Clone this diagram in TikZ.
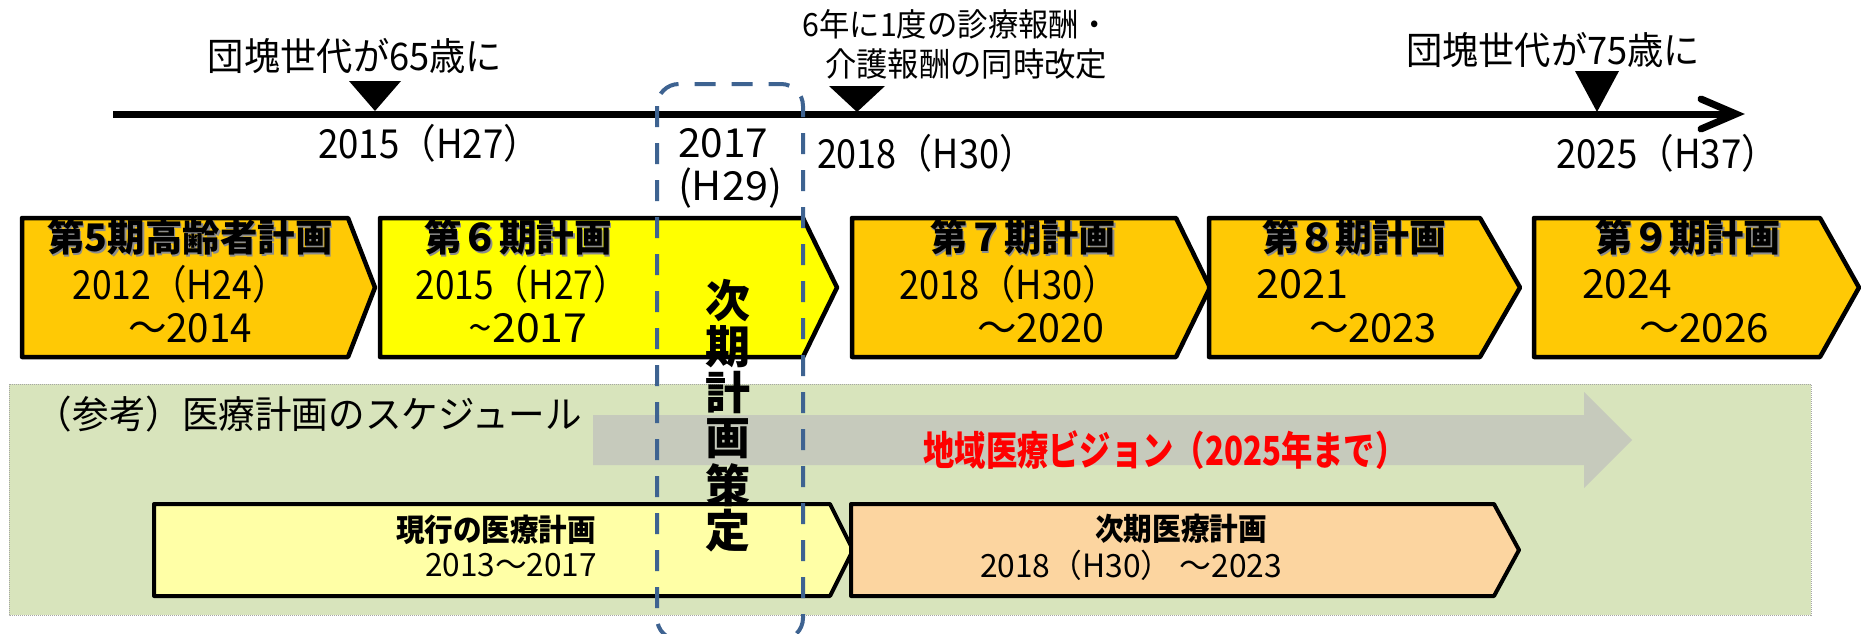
\documentclass[tikz,border=0pt]{standalone}
\usepackage{fontspec}
\setmainfont{Noto Sans CJK JP}
\usepackage{graphicx}
\definecolor{planorange}{RGB}{255,201,5}
\definecolor{planyellow}{RGB}{255,255,0}
\definecolor{panelgreen}{RGB}{216,228,188}
\definecolor{arrowgray}{RGB}{198,202,188}
\definecolor{curyellow}{RGB}{255,255,166}
\definecolor{nextorange}{RGB}{252,213,160}
\definecolor{dashblue}{RGB}{62,99,145}
\newcommand\fitw[2]{\resizebox{#1pt}{\height}{#2}}
\newcommand\fsz[1]{\fontsize{#1}{#1}\selectfont}
\newcommand\shd[1]{\makebox[0pt][l]{\raisebox{-1.5pt}{\hspace{1.5pt}\textcolor{black!45}{#1}}}#1}
\newcommand\pentagon[6]{\filldraw[#6] (#1,#2) -- (#3,#2) -- (#4,{(#2+#5)/2}) -- (#3,#5) -- (#1,#5) -- cycle;}
\tikzset{
  plan/.style={draw=black, line width=4.5pt, line join=round},
  lowplan/.style={draw=black, line width=4pt, line join=round},
  lbl/.style={inner sep=0pt, outer sep=0pt, font=\fsz{38}},
  yr/.style={inner sep=0pt, outer sep=0pt, font=\fsz{40}},
  head/.style={inner sep=0pt, outer sep=0pt, font=\fsz{38}\bfseries},
  vert/.style={inner sep=0pt, outer sep=0pt, font=\fsz{45}\bfseries},
  tri/.style={fill=black},
}
\begin{document}
\begin{tikzpicture}[x=1pt,y=-1pt]
\useasboundingbox (0,0) rectangle (1862,634);
\clip (0,0) rectangle (1862,634);
\fill[white] (0,0) rectangle (1862,634);

% reference panel
\filldraw[fill=panelgreen, draw=gray!70, line width=1pt, dash pattern=on 1pt off 1pt] (9,384) rectangle (1811,615);
\node[lbl, font=\fsz{38}] (reflbl) at (309,414) {\fitw{546}{（参考）医療計画のスケジュール}};
\fill[arrowgray] (593,415) -- (1584,415) -- (1584,392) -- (1632,440) -- (1584,488) -- (1584,465) -- (593,465) -- cycle;
\node[head, font=\fsz{40}\bfseries, text=red] (vision) at (1165,450) {\fitw{483}{地域医療ビジョン（2025年まで）}};

% lower boxes
\pentagon{154}{504}{830}{853}{596}{lowplan, fill=curyellow}
\pentagon{851}{504}{1494}{1519}{596}{lowplan, fill=nextorange}
\node[lbl, font=\fsz{31}\bfseries, anchor=east] (cur1) at (596,530) {\fitw{200}{現行の医療計画}};
\node[lbl, font=\fsz{32}, anchor=east] (cur2) at (597,565) {\fitw{172}{2013～2017}};
\node[lbl, font=\fsz{31}\bfseries] (nxt1) at (1181,529) {\fitw{172}{次期医療計画}};
\node[lbl, font=\fsz{32}] (nxt2) at (1131,565) {\fitw{302}{2018（H30） ～2023}};

% plan boxes
\pentagon{22}{218}{348}{375}{357}{plan, fill=planorange}
\pentagon{380}{218}{803}{837}{357}{plan, fill=planyellow}
\pentagon{852}{218}{1176}{1210}{357}{plan, fill=planorange}
\pentagon{1209}{218}{1480}{1520}{357}{plan, fill=planorange}
\pentagon{1534}{218}{1820}{1859}{357}{plan, fill=planorange}

\node[head] (h5) at (190,238) {\fitw{285}{\shd{第5期高齢者計画}}};
\node[yr] (a5) at (180,284) {\fitw{215}{2012（H24）}};
\node[yr] (b5) at (190,328) {\fitw{124}{～2014}};

\node[head] (h6) at (518,238) {\fitw{188}{\shd{第６期計画}}};
\node[yr] (a6) at (522,284) {\fitw{213}{2015（H27）}};
\node[yr] (b6) at (528,328) {\fitw{119}{\string~2017}};

\node[head] (h7) at (1023,238) {\fitw{186}{\shd{第７期計画}}};
\node[yr] (a7) at (1009,284) {\fitw{220}{2018（H30）}};
\node[yr] (b7) at (1041,328) {\fitw{127}{～2020}};

\node[head] (h8) at (1354,238) {\fitw{184}{\shd{第８期計画}}};
\node[yr, anchor=west] (a8) at (1256,284) {\fitw{92}{2021}};
\node[yr] (b8) at (1373,328) {\fitw{128}{～2023}};

\node[head] (h9) at (1688,238) {\fitw{186}{\shd{第９期計画}}};
\node[yr, anchor=west] (a9) at (1582,284) {\fitw{90}{2024}};
\node[yr] (b9) at (1704,328) {\fitw{130}{～2026}};

% timeline
\draw[line width=7pt] (113,114) -- (1733,114);
\draw[line width=7pt, line cap=round, line join=miter] (1701,99) -- (1736,114) -- (1701,129);
\fill[tri] (349,81) -- (401,81) -- (375,111) -- cycle;
\fill[tri] (829,86) -- (885,86) -- (857,112) -- cycle;
\fill[tri] (1575,71) -- (1619,71) -- (1597,112) -- cycle;

\node[lbl] (t65) at (355,56) {\fitw{294}{団塊世代が65歳に}};
\node[lbl, font=\fsz{32}] (rev1) at (956,24) {\fitw{307}{6年に1度の診療報酬・}};
\node[lbl, font=\fsz{33}] (rev2) at (966,64) {\fitw{282}{介護報酬の同時改定}};
\node[lbl] (t75) at (1553,50) {\fitw{294}{団塊世代が75歳に}};

\node[yr] (y15) at (429,143) {\fitw{222}{2015（H27）}};
\node[yr] (y17a) at (723,143) {\fitw{90}{2017}};
\node[yr] (y17b) at (730,188) {\fitw{104}{(H29)}};
\node[yr] (y18) at (926,153) {\fitw{218}{2018（H30）}};
\node[yr] (y25) at (1667,153) {\fitw{222}{2025（H37）}};

% dashed planning box
\draw[dashblue, line width=4pt, rounded corners=22pt, dash pattern=on 21pt off 16pt] (657,84) rectangle (803,640);
\foreach \c [count=\i from 0] in {次,期,計,画,策,定}
  \node[vert] (v\i) at (728,{301+46*\i}) {\c};
\end{tikzpicture}
\end{document}
